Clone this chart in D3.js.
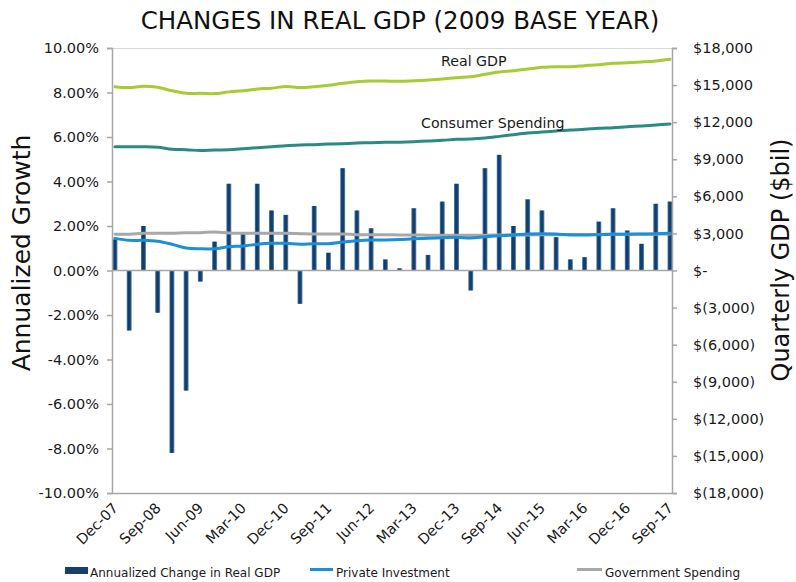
<!DOCTYPE html>
<html>
<head>
<meta charset="utf-8">
<script src="https://cdn.jsdelivr.net/npm/d3@7/dist/d3.min.js"></script>
<style>
  html, body { margin: 0; padding: 0; background: #fff; }
  svg { display: block; font-family: "DejaVu Sans", Verdana, sans-serif; }
</style>
</head>
<body>
<svg id="chart" width="796" height="582"></svg>
<script>
// Quarterly observations, Dec-07 through Sep-17
const quarters = [
  "Dec-07","Mar-08","Jun-08","Sep-08","Dec-08","Mar-09","Jun-09","Sep-09",
  "Dec-09","Mar-10","Jun-10","Sep-10","Dec-10","Mar-11","Jun-11","Sep-11",
  "Dec-11","Mar-12","Jun-12","Sep-12","Dec-12","Mar-13","Jun-13","Sep-13",
  "Dec-13","Mar-14","Jun-14","Sep-14","Dec-14","Mar-15","Jun-15","Sep-15",
  "Dec-15","Mar-16","Jun-16","Sep-16","Dec-16","Mar-17","Jun-17","Sep-17"
];
const xTickLabels = ["Dec-07","Sep-08","Jun-09","Mar-10","Dec-10","Sep-11","Jun-12",
  "Mar-13","Dec-13","Sep-14","Jun-15","Mar-16","Dec-16","Sep-17"];

// Annualized change in real GDP (%), left axis
const growth = [1.4, -2.7, 2.0, -1.9, -8.2, -5.4, -0.5, 1.3, 3.9, 1.7,
  3.9, 2.7, 2.5, -1.5, 2.9, 0.8, 4.6, 2.7, 1.9, 0.5,
  0.1, 2.8, 0.7, 3.1, 3.9, -0.9, 4.6, 5.2, 2.0, 3.2,
  2.7, 1.5, 0.5, 0.6, 2.2, 2.8, 1.8, 1.2, 3.0, 3.1];

// Quarterly levels ($bil, 2009 dollars), right axis
const realGDP = [14870, 14800, 14900, 14820, 14540, 14340, 14330, 14310, 14450, 14540,
  14680, 14750, 14890, 14800, 14870, 14980, 15140, 15270, 15330, 15330,
  15310, 15355, 15410, 15490, 15600, 15680, 15870, 16060, 16160, 16300,
  16440, 16490, 16490, 16570, 16650, 16760, 16810, 16870, 16950, 17090];
const consumerSpending = [10010, 10010, 10010, 9970, 9810, 9770, 9700, 9750, 9770, 9850,
  9940, 10010, 10100, 10150, 10180, 10230, 10260, 10310, 10340, 10370,
  10380, 10420, 10480, 10530, 10610, 10640, 10720, 10850, 10990, 11120,
  11200, 11290, 11370, 11420, 11500, 11550, 11630, 11690, 11770, 11850];
const privateInvestment = [2600, 2440, 2440, 2360, 2120, 1820, 1760, 1760, 1920, 1980,
  2120, 2200, 2200, 2120, 2170, 2170, 2300, 2410, 2470, 2470,
  2500, 2570, 2600, 2650, 2690, 2620, 2730, 2810, 2870, 2950,
  2980, 2950, 2880, 2870, 2900, 2930, 2930, 2950, 2980, 3010];
const governmentSpending = [2930, 2930, 3010, 3010, 3010, 3060, 3060, 3110, 3030, 3010,
  3010, 3010, 3010, 2980, 2950, 2950, 2950, 2900, 2900, 2900,
  2880, 2870, 2860, 2860, 2850, 2850, 2860, 2870, 2870, 2880,
  2890, 2900, 2910, 2920, 2920, 2930, 2930, 2930, 2940, 2950];

const leftTicks = [10, 8, 6, 4, 2, 0, -2, -4, -6, -8, -10];
const rightTicks = [18000, 15000, 12000, 9000, 6000, 3000, 0, -3000, -6000, -9000, -12000, -15000, -18000];

const svg = d3.select("#chart");
const plot = { left: 112, right: 672, top: 48, bottom: 493 };

const x = d3.scalePoint().domain(quarters).range([115, 670]);
const yL = d3.scaleLinear().domain([-10, 10]).range([plot.bottom, plot.top]);
const yR = d3.scaleLinear().domain([-18000, 18000]).range([plot.bottom, plot.top]);

const axisColor = "#a6a6a6";
const textColor = "#1a1a1a";

// Bar shading
const defs = svg.append("defs");
const grad = defs.append("linearGradient").attr("id", "barGrad")
  .attr("x1", "0").attr("x2", "1").attr("y1", "0").attr("y2", "0");
grad.append("stop").attr("offset", "0%").attr("stop-color", "#5f84ad");
grad.append("stop").attr("offset", "30%").attr("stop-color", "#0f3c6c");
grad.append("stop").attr("offset", "70%").attr("stop-color", "#13426f");
grad.append("stop").attr("offset", "100%").attr("stop-color", "#7496bd");

// Title
svg.append("text")
  .attr("x", 400).attr("y", 29)
  .attr("text-anchor", "middle")
  .attr("font-size", 24.5)
  .attr("fill", "#111")
  .text("CHANGES IN REAL GDP (2009 BASE YEAR)");

// Plot frame: top border and bottom border
svg.append("line").attr("x1", plot.left).attr("x2", plot.right)
  .attr("y1", plot.top + 0.5).attr("y2", plot.top + 0.5)
  .attr("stroke", "#d9d9d9").attr("stroke-width", 1);
svg.append("line").attr("x1", plot.left).attr("x2", plot.right)
  .attr("y1", plot.bottom + 0.5).attr("y2", plot.bottom + 0.5)
  .attr("stroke", axisColor).attr("stroke-width", 1.5);

// Bars
const barW = 5;
svg.append("g").selectAll("rect").data(growth).join("rect")
  .attr("x", (d, i) => x(quarters[i]) - barW / 2)
  .attr("width", barW)
  .attr("y", d => Math.min(yL(d), yL(0)))
  .attr("height", d => Math.abs(yL(d) - yL(0)))
  .attr("fill", "url(#barGrad)");

// Zero line (category axis)
svg.append("line").attr("x1", plot.left).attr("x2", plot.right)
  .attr("y1", yL(0)).attr("y2", yL(0))
  .attr("stroke", axisColor).attr("stroke-width", 1.5);

// Left axis (plain hyphen for negatives)
const fmtPct = d => (d < 0 ? "-" : "") + Math.abs(d).toFixed(2) + "%";
const leftAxis = d3.axisLeft(yL).tickValues(leftTicks).tickSize(5).tickPadding(8)
  .tickFormat(fmtPct);
const gL = svg.append("g").attr("transform", `translate(${plot.left},0)`).call(leftAxis);
gL.select(".domain").attr("stroke", axisColor).attr("stroke-width", 1.5);
gL.selectAll(".tick line").attr("stroke", axisColor).attr("stroke-width", 1.5);
gL.selectAll(".tick text").attr("font-size", 14.5).attr("fill", textColor)
  .attr("font-family", "DejaVu Sans, Verdana, sans-serif");

// Right axis (accounting-style dollar labels)
const fmtDollar = d => {
  if (d === 0) return "$-";
  const s = d3.format(",")(Math.abs(d));
  return d < 0 ? "$(" + s + ")" : "$" + s;
};
const rightAxis = d3.axisRight(yR).tickValues(rightTicks).tickSize(5).tickPadding(16)
  .tickFormat(fmtDollar);
const gR = svg.append("g").attr("transform", `translate(${plot.right},0)`).call(rightAxis);
gR.select(".domain").attr("stroke", axisColor).attr("stroke-width", 1.5);
gR.selectAll(".tick line").attr("stroke", axisColor).attr("stroke-width", 1.5);
gR.selectAll(".tick text").attr("font-size", 14.5).attr("fill", textColor)
  .attr("font-family", "DejaVu Sans, Verdana, sans-serif");

// Category labels, every third quarter, rotated
svg.append("g").selectAll("text").data(xTickLabels).join("text")
  .attr("transform", d => `translate(${x(d) + 4},${plot.bottom + 16}) rotate(-45)`)
  .attr("text-anchor", "end")
  .attr("font-size", 14.5)
  .attr("fill", textColor)
  .text(d => d);

// Lines on the right axis
const line = d3.line()
  .x((d, i) => x(quarters[i]))
  .y(d => yR(d))
  .curve(d3.curveCatmullRom);

const series = [
  { values: realGDP, color: "#a6cb33" },
  { values: consumerSpending, color: "#2a8a84" },
  { values: governmentSpending, color: "#a8a8a8" },
  { values: privateInvestment, color: "#1b8fd8" }
];
svg.append("g").selectAll("path").data(series).join("path")
  .attr("d", d => line(d.values))
  .attr("fill", "none")
  .attr("stroke", d => d.color)
  .attr("stroke-width", 3)
  .attr("stroke-linejoin", "round")
  .attr("stroke-linecap", "round");

// Line annotations
svg.append("text").attr("x", 441).attr("y", 66)
  .attr("font-size", 14.2).attr("fill", textColor).text("Real GDP");
svg.append("text").attr("x", 421).attr("y", 128)
  .attr("font-size", 14.2).attr("fill", textColor).text("Consumer Spending");

// Axis titles
svg.append("text")
  .attr("transform", "translate(30,253) rotate(-90)")
  .attr("text-anchor", "middle")
  .attr("font-size", 25)
  .attr("fill", "#111")
  .text("Annualized Growth");
svg.append("text")
  .attr("transform", "translate(789,260) rotate(-90)")
  .attr("text-anchor", "middle")
  .attr("font-size", 24)
  .attr("fill", "#111")
  .text("Quarterly GDP ($bil)");

// Legend
const legend = svg.append("g").attr("font-size", 12).attr("fill", textColor);
legend.append("rect").attr("x", 65).attr("y", 567).attr("width", 23).attr("height", 7)
  .attr("fill", "#173f6e");
legend.append("text").attr("x", 90).attr("y", 577).text("Annualized Change in Real GDP");
legend.append("line").attr("x1", 310).attr("x2", 333).attr("y1", 569.5).attr("y2", 569.5)
  .attr("stroke", "#1b8fd8").attr("stroke-width", 3);
legend.append("text").attr("x", 336).attr("y", 577).text("Private Investment");
legend.append("line").attr("x1", 577).attr("x2", 602).attr("y1", 569.5).attr("y2", 569.5)
  .attr("stroke", "#a8a8a8").attr("stroke-width", 3);
legend.append("text").attr("x", 605).attr("y", 577).text("Government Spending");
</script>
</body>
</html>
